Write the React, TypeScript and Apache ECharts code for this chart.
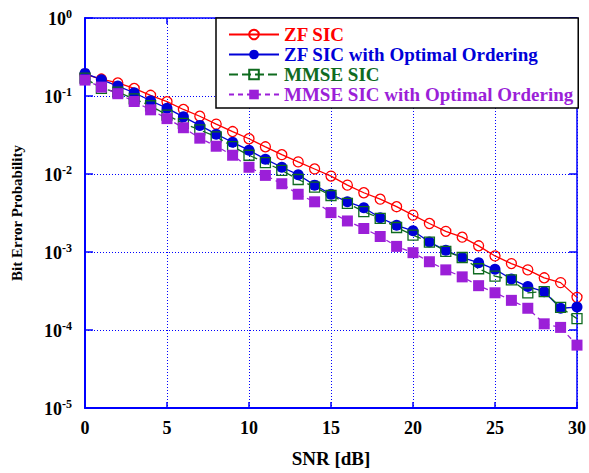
import React, { useEffect, useRef } from "react";
import * as echarts from "echarts";

const snr = [0,1,2,3,4,5,6,7,8,9,10,11,12,13,14,15,16,17,18,19,20,21,22,23,24,25,26,27,28,29,30];
const zfSic = [0.19,0.165,0.147,0.125,0.102,0.0845,0.0672,0.055,0.0436,0.035,0.0283,0.0223,0.0177,0.0143,0.0116,0.0094,0.0072,0.00575,0.00476,0.00381,0.00297,0.00232,0.00184,0.00155,0.0012,0.00089,0.00071,0.00059,0.000467,0.000405,0.000262];
const zfSicOpt = [0.195,0.162,0.134,0.11,0.087,0.0698,0.054,0.042,0.0324,0.0255,0.0202,0.0155,0.0122,0.0098,0.0072,0.0055,0.0044,0.0037,0.00275,0.0022,0.00187,0.00134,0.00105,0.00085,0.00073,0.0006,0.00045,0.00036,0.00031,0.00019,0.000197];
const mmseSic = [0.17,0.125,0.112,0.092,0.075,0.057,0.0445,0.0367,0.03,0.0225,0.0174,0.014,0.0111,0.0085,0.0068,0.0053,0.0042,0.0033,0.0027,0.00206,0.00165,0.00134,0.00102,0.00085,0.00061,0.00049,0.00044,0.0003,0.00031,0.000195,0.00014];
const mmseSicOpt = [0.16,0.13,0.107,0.085,0.0665,0.0513,0.0392,0.0288,0.0227,0.0174,0.0122,0.0096,0.0075,0.0055,0.0044,0.0032,0.0025,0.002,0.00158,0.00118,0.00098,0.00075,0.00059,0.00048,0.00037,0.0003,0.00024,0.00019,0.00012,0.000108,0.000064];
const seriesNames = ["ZF SIC", "ZF SIC with Optimal Ordering", "MMSE SIC", "MMSE SIC with Optimal Ordering"];

const FONT = '"Liberation Serif", "Times New Roman", serif';
const RED = "#ff0000";
const BLUE = "#0000d8";
const GREEN = "#0f6b1f";
const PURPLE = "#9b1fd8";
const AXIS = "#0000ff";

export default function App() {
  const ref = useRef<HTMLDivElement>(null);
  useEffect(() => {
    if (!ref.current) return;
    const chart = echarts.init(ref.current, null, { renderer: "svg" });
    const pair = (ys: number[]) => snr.map((x, i) => [x, ys[i]]);
    const supLabel = (v: number) => {
      const e = Math.round(Math.log10(v));
      return `{b|10}{s|${e}}`;
    };
    chart.setOption({
      animation: false,
      backgroundColor: "#ffffff",
      textStyle: { fontFamily: FONT },
      grid: { left: 85, right: 9, top: 18, bottom: 55 },
      legend: {
        orient: "vertical",
        left: 216,
        top: 18,
        padding: [7, 5, 4, 12],
        backgroundColor: "#ffffff",
        borderColor: "#000000",
        borderWidth: 1.5,
        borderRadius: 0,
        itemWidth: 50,
        itemHeight: 12,
        itemGap: 1,
        textStyle: { fontFamily: FONT, fontWeight: "bold", fontSize: 19, lineHeight: 17 },
        data: [
          { name: seriesNames[0], textStyle: { color: RED } },
          { name: seriesNames[1], textStyle: { color: BLUE } },
          { name: seriesNames[2], textStyle: { color: GREEN } },
          { name: seriesNames[3], textStyle: { color: PURPLE } },
        ],
      },
      xAxis: [
        {
          type: "value",
          min: 0,
          max: 30,
          interval: 5,
          name: "SNR [dB]",
          nameLocation: "middle",
          nameGap: 41,
          nameTextStyle: { fontFamily: FONT, fontWeight: "bold", fontSize: 19, color: "#000" },
          axisLine: { show: true, lineStyle: { color: AXIS, width: 2 } },
          axisTick: { show: true, inside: true, length: 6, lineStyle: { color: AXIS, width: 1.5 } },
          axisLabel: { fontFamily: FONT, fontWeight: "bold", fontSize: 18, color: "#000", margin: 11 },
          splitLine: { show: true, lineStyle: { color: AXIS, type: [1, 2], width: 1 } },
        },
        {
          type: "value",
          position: "top",
          min: 0,
          max: 30,
          interval: 5,
          axisLine: { show: true, onZero: false, lineStyle: { color: AXIS, width: 1.5 } },
          axisTick: { show: true, inside: true, length: 6, lineStyle: { color: AXIS, width: 1.5 } },
          axisLabel: { show: false },
          splitLine: { show: false },
        },
      ],
      yAxis: [
        {
          type: "log",
          logBase: 10,
          min: 1e-5,
          max: 1,
          name: "Bit Error Probability",
          nameLocation: "middle",
          nameGap: 61,
          nameTextStyle: { fontFamily: FONT, fontWeight: "bold", fontSize: 15, color: "#000" },
          axisLine: { show: true, lineStyle: { color: AXIS, width: 2 } },
          axisTick: { show: true, inside: true, length: 8, lineStyle: { color: AXIS, width: 1.5 } },
          minorTick: { show: false },
          axisLabel: {
            margin: 13,
            formatter: supLabel,
            rich: {
              b: { fontFamily: FONT, fontWeight: "bold", fontSize: 18, color: "#000", verticalAlign: "bottom" },
              s: { fontFamily: FONT, fontWeight: "bold", fontSize: 12, color: "#000", verticalAlign: "bottom", padding: [0, 0, 8, 0] },
            },
          },
          splitLine: { show: true, lineStyle: { color: AXIS, type: [1, 2], width: 1 } },
        },
        {
          type: "log",
          logBase: 10,
          min: 1e-5,
          max: 1,
          position: "right",
          axisLine: { show: true, onZero: false, lineStyle: { color: AXIS, width: 1.5 } },
          axisTick: { show: true, inside: true, length: 8, lineStyle: { color: AXIS, width: 1.5 } },
          axisLabel: { show: false },
          splitLine: { show: false },
        },
      ],
      series: [
        {
          name: seriesNames[0],
          type: "line",
          data: pair(zfSic),
          symbol: "circle",
          symbolSize: 10,
          itemStyle: { color: "rgba(255,255,255,0)", borderColor: RED, borderWidth: 1.3 },
          lineStyle: { color: RED, width: 1.3 },
        },
        {
          name: seriesNames[1],
          type: "line",
          data: pair(zfSicOpt),
          symbol: "circle",
          symbolSize: 11,
          itemStyle: { color: BLUE },
          lineStyle: { color: BLUE, width: 1.3 },
        },
        {
          name: seriesNames[2],
          type: "line",
          data: pair(mmseSic),
          symbol: "rect",
          symbolSize: 10,
          itemStyle: { color: "rgba(255,255,255,0)", borderColor: GREEN, borderWidth: 1.3 },
          lineStyle: { color: GREEN, width: 1.3, type: [9, 4] },
        },
        {
          name: seriesNames[3],
          type: "line",
          data: pair(mmseSicOpt),
          symbol: "rect",
          symbolSize: 11,
          itemStyle: { color: PURPLE },
          lineStyle: { color: PURPLE, width: 1.3, type: [5, 4] },
        },
      ],
    });
    return () => chart.dispose();
  }, []);
  return (
    <div
      ref={ref}
      style={{ position: "fixed", left: 0, top: 0, width: 589, height: 473, background: "#fff" }}
    />
  );
}
